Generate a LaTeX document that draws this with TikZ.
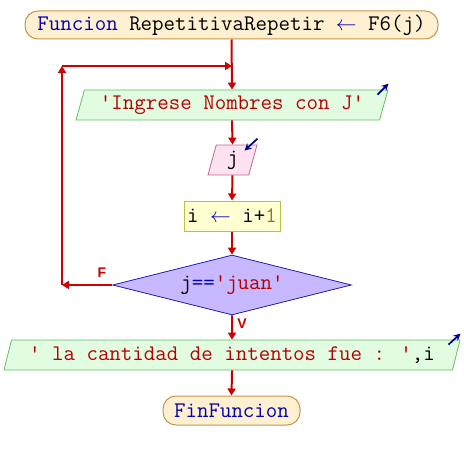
\documentclass[tikz,border=0pt]{standalone}
\usepackage{fontspec}
\setsansfont{Liberation Sans}
\usetikzlibrary{shapes.geometric,arrows.meta,calc}
\definecolor{flow}{HTML}{CC0000}
\definecolor{kw}{HTML}{0000B0}
\definecolor{str}{HTML}{B80000}
\definecolor{num}{HTML}{8A7A20}
\definecolor{termfill}{HTML}{FFF0D2}
\definecolor{termdraw}{HTML}{C8944A}
\definecolor{outfill}{HTML}{E2FCE2}
\definecolor{outdraw}{HTML}{60C060}
\definecolor{infill}{HTML}{FFE2F0}
\definecolor{indraw}{HTML}{C06890}
\definecolor{procfill}{HTML}{FFFFD2}
\definecolor{procdraw}{HTML}{C0C040}
\definecolor{decfill}{HTML}{C8B8FF}
\definecolor{decdraw}{HTML}{2020A0}
\definecolor{ioarrow}{HTML}{000090}
\tikzset{
  term/.style={draw=termdraw, fill=termfill, line width=1pt, rounded corners=13pt, inner sep=0pt},
  iobox/.style={shape=trapezium, trapezium left angle=66, trapezium right angle=114,
     trapezium stretches body, inner sep=0pt, minimum height=30pt, line width=0.8pt},
  outbox/.style={iobox, draw=outdraw, fill=outfill},
  inbox/.style={iobox, draw=indraw, fill=infill},
  procbox/.style={draw=procdraw, fill=procfill, line width=1pt, inner sep=0pt},
  decbox/.style={shape=diamond, aspect=4, draw=decdraw, fill=decfill, line width=0.8pt, inner sep=0pt},
  flowline/.style={draw=flow, line width=2pt},
  flowarrow/.style={flowline, -{Triangle[length=7pt,width=8pt]}},
  ioarr/.style={draw=ioarrow, line width=1.7pt, -{Stealth[length=7pt,width=7pt]}},
  branch/.style={text=flow, font=\sffamily\bfseries\fontsize{14}{14}\selectfont}
}
\begin{document}
\begin{tikzpicture}[x=1pt,y=-1pt, font=\ttfamily\fontsize{22.3}{24}\selectfont]
\useasboundingbox[fill=white] (0,0) rectangle (464,460);
% nodes
\node[term, minimum width=413pt, minimum height=28pt] (top) at (231.5,25)
  {\textcolor{kw}{Funcion} RepetitivaRepetir \textcolor{kw}{$\leftarrow$} F6(j)};
\node[outbox, minimum width=312pt] (in1) at (232,105)
  {\textcolor{str}{'Ingrese Nombres con J'}};
\node[inbox, minimum width=49pt] (inj) at (232.5,160) {j};
\node[procbox, minimum width=96pt, minimum height=30pt] (inc) at (232,216)
  {i \textcolor{kw}{$\leftarrow$} i+\textcolor{num}{1}};
\node[decbox, minimum width=239pt, minimum height=60pt] (dec) at (232,285)
  {j\textcolor{kw}{==}\textcolor{str}{'juan'}};
\node[outbox, minimum width=456pt] (out) at (232,355)
  {\textcolor{str}{' la cantidad de intentos fue : '},i};
\node[term, minimum width=137pt, minimum height=29pt] (fin) at (231.5,410.5)
  {\textcolor{kw}{FinFuncion}};
% labels
\node[branch] (lf) at (102,273) {F};
\node[branch] (lv) at (242,324) {V};
% loop coordinates
\coordinate (lb) at (62,285);
\coordinate (lt) at (62,66);
\coordinate (lj) at (232,66);
% connectors
\draw[flowarrow] (top.south) -- (in1.north);
\draw[flowarrow] (in1.south) -- (inj.north);
\draw[flowarrow] (inj.south) -- (inc.north);
\draw[flowarrow] (inc.south) -- (dec.north);
\draw[flowarrow] (dec.south) -- (out.north);
\draw[flowarrow] (out.south) -- (fin.north);
\draw[flowarrow] (dec.west) -- (lb);
\draw[flowarrow] (lb) -- (lt);
\draw[flowarrow] (lt) -- (lj);
% io arrows
\draw[ioarr] ($(in1.top right corner)+(-11,5)$) -- ($(in1.top right corner)+(0,-6)$);
\draw[ioarr] ($(inj.top right corner)+(0,-6)$) -- ($(inj.top right corner)+(-13,6)$);
\draw[ioarr] ($(out.top right corner)+(-12,5)$) -- ($(out.top right corner)+(0,-6)$);
\end{tikzpicture}
\end{document}
